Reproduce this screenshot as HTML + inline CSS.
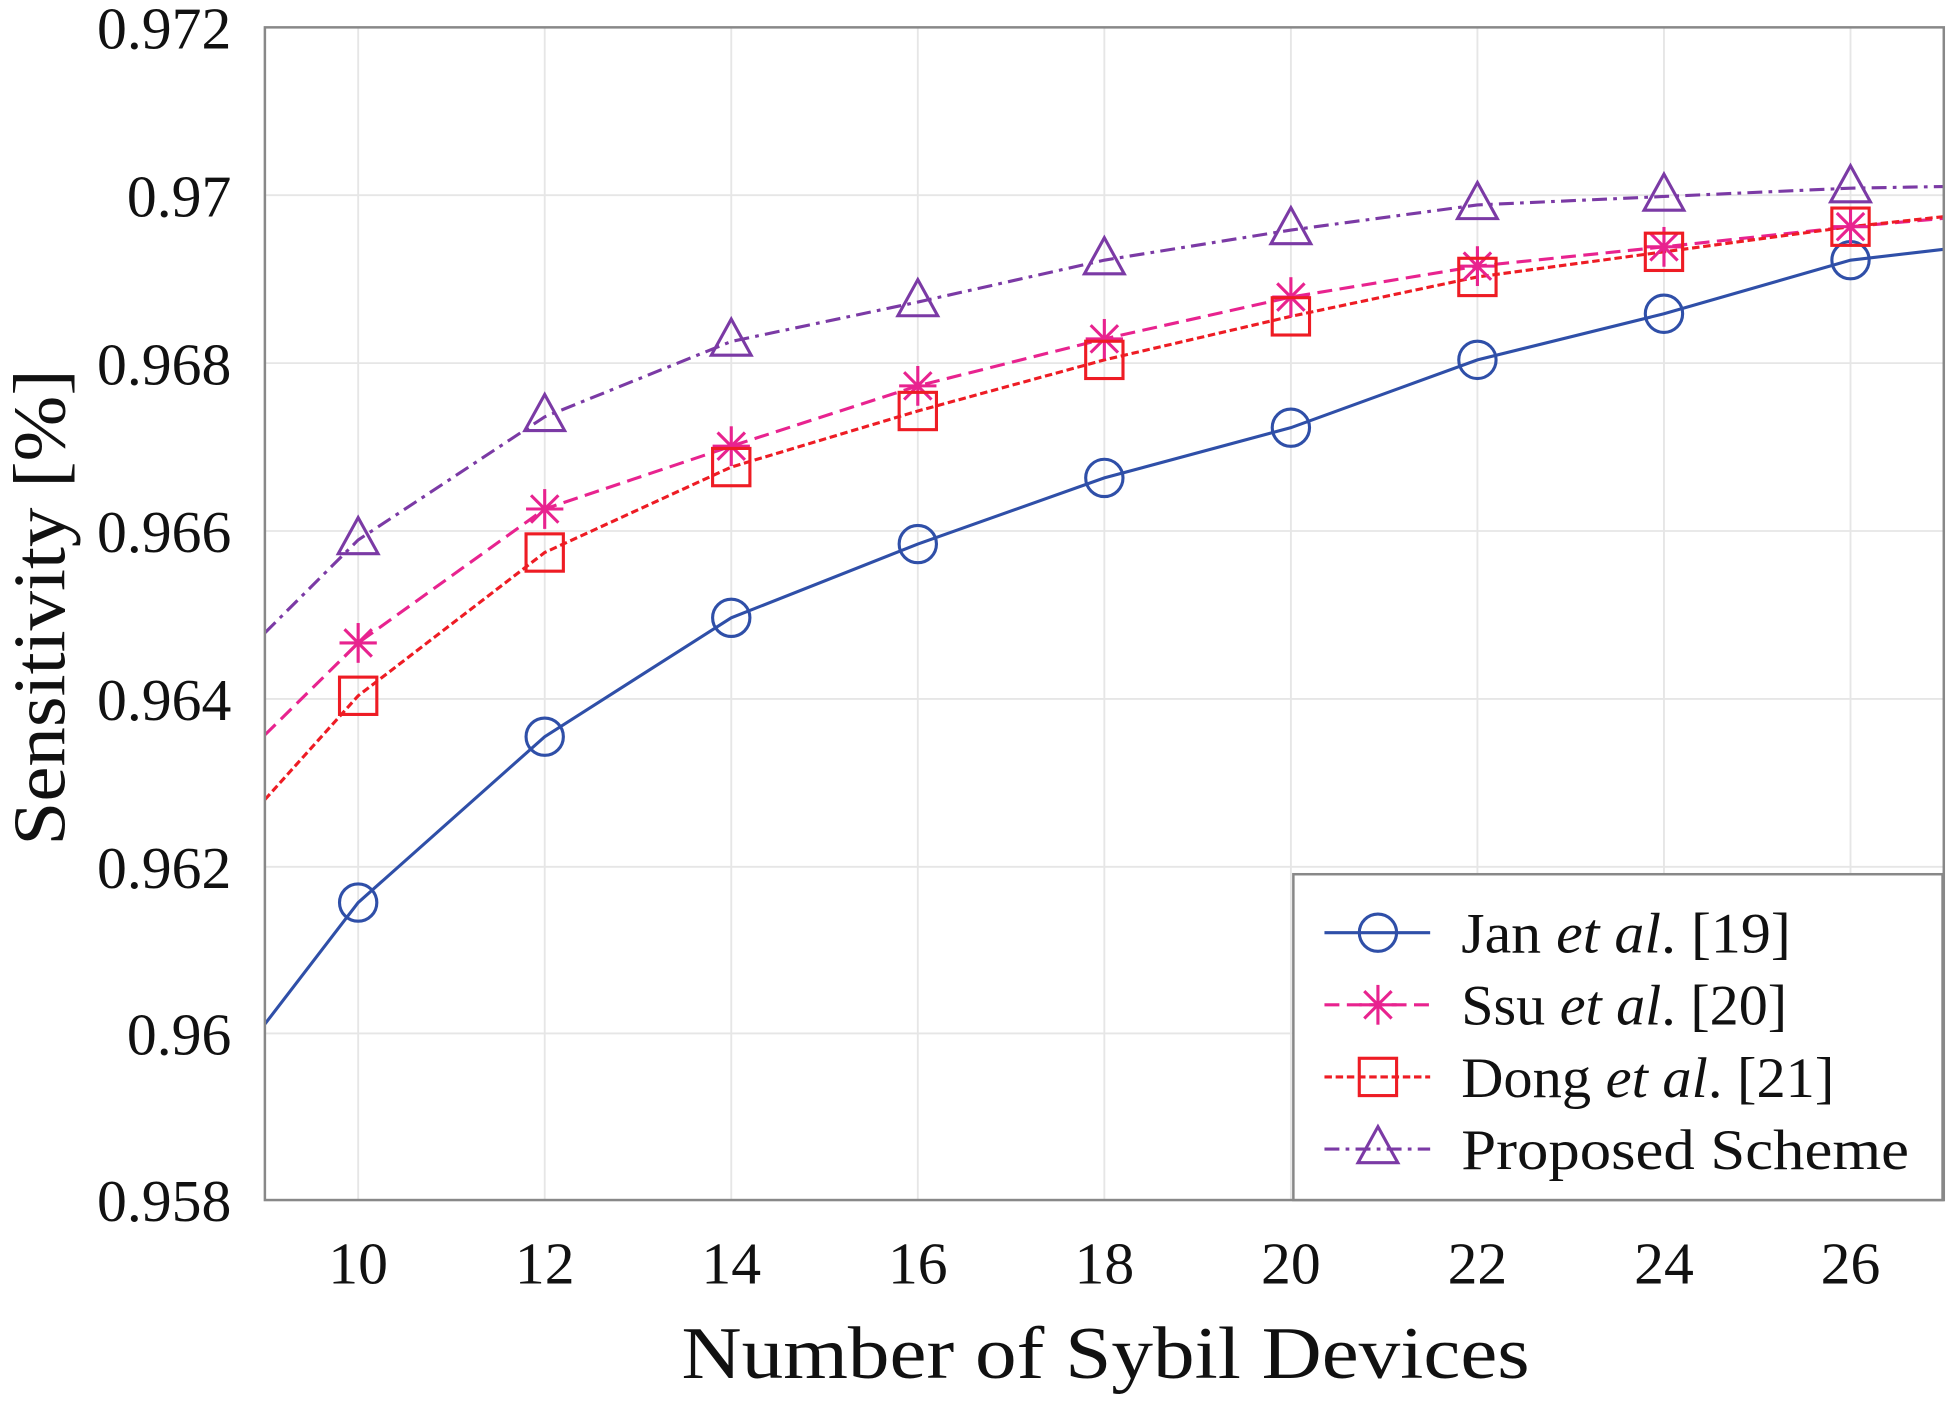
<!DOCTYPE html>
<html><head><meta charset="utf-8"><style>html,body{margin:0;padding:0;background:#fff}svg{display:block}</style></head>
<body>
<svg width="1950" height="1402" viewBox="0 0 1568 1127.4" preserveAspectRatio="none" xmlns="http://www.w3.org/2000/svg" font-family="'Liberation Serif', serif">
<defs>
<g id="ci"><circle r="15" fill="none" stroke="#2f4fa8" stroke-width="2.5"/></g>
<g id="st" stroke="#e8238f" stroke-width="2.5"><line x1="-15" y1="0" x2="15" y2="0"/><line x1="0" y1="-16" x2="0" y2="16"/><line x1="-11" y1="-11" x2="11" y2="11"/><line x1="-11" y1="11" x2="11" y2="-11"/></g>
<g id="sq"><rect x="-15" y="-15" width="30" height="30" fill="none" stroke="#ee1c24" stroke-width="2.5"/></g>
<g id="tr"><polygon points="0,-18 16,11 -16,11" fill="none" stroke="#7b3aa5" stroke-width="2.5"/></g>
<clipPath id="cp"><rect x="213" y="22" width="1350" height="943"/></clipPath>
</defs>
<g stroke="#e6e6e6" stroke-width="1.5">
<line x1="288" y1="22" x2="288" y2="965"/><line x1="438" y1="22" x2="438" y2="965"/><line x1="588" y1="22" x2="588" y2="965"/><line x1="738" y1="22" x2="738" y2="965"/><line x1="888" y1="22" x2="888" y2="965"/><line x1="1038" y1="22" x2="1038" y2="965"/><line x1="1188" y1="22" x2="1188" y2="965"/><line x1="1338" y1="22" x2="1338" y2="965"/><line x1="1488" y1="22" x2="1488" y2="965"/>
<line x1="213" y1="157" x2="1563" y2="157"/><line x1="213" y1="292" x2="1563" y2="292"/><line x1="213" y1="427" x2="1563" y2="427"/><line x1="213" y1="562" x2="1563" y2="562"/><line x1="213" y1="697" x2="1563" y2="697"/><line x1="213" y1="831" x2="1563" y2="831"/>
</g>
<g clip-path="url(#cp)" fill="none" stroke-width="2.5">
<polyline stroke="#2f4fa8" points="213,823.5 288,725.8 438,592.4 588,496.8 738,437.5 888,384.3 1038,343.9 1188,289.4 1338,252.3 1488,209.2 1563,200.5"/>
<polyline stroke="#e8238f" stroke-dasharray="12,6" points="213,591 288,517 438,409.3 588,358.8 738,310.3 888,272.5 1038,238.9 1188,214 1338,198.5 1488,182.3 1563,175.6"/>
<polyline stroke="#ee1c24" stroke-dasharray="6,3" points="213,643 288,559.5 438,444.3 588,375.6 738,330.5 888,289.4 1038,254.4 1188,222.7 1338,202.5 1488,182.3 1563,174.2"/>
<polyline stroke="#7b3aa5" stroke-dasharray="12,5,3,5" points="213,508.9 288,434.2 438,335.2 588,274.6 738,242.9 888,209.2 1038,185 1188,164.8 1338,158 1488,151.3 1563,150"/>
</g>
<g>
<use href="#ci" x="288" y="725.8"/><use href="#ci" x="438" y="592.4"/><use href="#ci" x="588" y="496.8"/><use href="#ci" x="738" y="437.5"/><use href="#ci" x="888" y="384.3"/><use href="#ci" x="1038" y="343.9"/><use href="#ci" x="1188" y="289.4"/><use href="#ci" x="1338" y="252.3"/><use href="#ci" x="1488" y="209.2"/>
<use href="#st" x="288" y="517"/><use href="#st" x="438" y="409.3"/><use href="#st" x="588" y="358.8"/><use href="#st" x="738" y="310.3"/><use href="#st" x="888" y="272.5"/><use href="#st" x="1038" y="238.9"/><use href="#st" x="1188" y="214"/><use href="#st" x="1338" y="198.5"/><use href="#st" x="1488" y="182.3"/>
<use href="#sq" x="288" y="559.5"/><use href="#sq" x="438" y="444.3"/><use href="#sq" x="588" y="375.6"/><use href="#sq" x="738" y="330.5"/><use href="#sq" x="888" y="289.4"/><use href="#sq" x="1038" y="254.4"/><use href="#sq" x="1188" y="222.7"/><use href="#sq" x="1338" y="202.5"/><use href="#sq" x="1488" y="182.3"/>
<use href="#tr" x="288" y="434.2"/><use href="#tr" x="438" y="335.2"/><use href="#tr" x="588" y="274.6"/><use href="#tr" x="738" y="242.9"/><use href="#tr" x="888" y="209.2"/><use href="#tr" x="1038" y="185"/><use href="#tr" x="1188" y="164.8"/><use href="#tr" x="1338" y="158"/><use href="#tr" x="1488" y="151.3"/>
</g>
<rect x="213" y="22" width="1350" height="943" fill="none" stroke="#888" stroke-width="2"/>
<g font-size="48" fill="#111" text-anchor="end">
<text x="186" y="39">0.972</text><text x="186" y="174">0.97</text><text x="186" y="309">0.968</text><text x="186" y="444">0.966</text><text x="186" y="579">0.964</text><text x="186" y="714">0.962</text><text x="186" y="848">0.96</text><text x="186" y="982">0.958</text>
</g>
<g font-size="48" fill="#111" text-anchor="middle">
<text x="288" y="1032">10</text><text x="438" y="1032">12</text><text x="588" y="1032">14</text><text x="738" y="1032">16</text><text x="888" y="1032">18</text><text x="1038" y="1032">20</text><text x="1188" y="1032">22</text><text x="1338" y="1032">24</text><text x="1488" y="1032">26</text>
</g>
<text x="548" y="1108" font-size="60" textLength="682" lengthAdjust="spacingAndGlyphs" fill="#111">Number of Sybil Devices</text>
<text transform="translate(52,680) rotate(-90)" font-size="60" textLength="383" lengthAdjust="spacingAndGlyphs" fill="#111">Sensitivity [%]</text>
<rect x="1040" y="703" width="522" height="262" fill="#fff" stroke="#888" stroke-width="2"/>
<g stroke-width="2.5">
<line x1="1065" y1="750" x2="1150" y2="750" stroke="#2f4fa8"/><use href="#ci" x="1108" y="750"/>
<line x1="1065" y1="808" x2="1150" y2="808" stroke="#e8238f" stroke-dasharray="12,6"/><use href="#st" x="1108" y="808"/>
<line x1="1065" y1="866" x2="1150" y2="866" stroke="#ee1c24" stroke-dasharray="6,3"/><use href="#sq" x="1108" y="866"/>
<line x1="1065" y1="924" x2="1150" y2="924" stroke="#7b3aa5" stroke-dasharray="12,5,3,5"/><use href="#tr" x="1108" y="924"/>
</g>
<g font-size="46" fill="#111">
<text x="1175" y="766" textLength="265" lengthAdjust="spacingAndGlyphs">Jan <tspan font-style="italic">et al</tspan>. [19]</text>
<text x="1175" y="824" textLength="262" lengthAdjust="spacingAndGlyphs">Ssu <tspan font-style="italic">et al</tspan>. [20]</text>
<text x="1175" y="882" textLength="300" lengthAdjust="spacingAndGlyphs">Dong <tspan font-style="italic">et al</tspan>. [21]</text>
<text x="1175" y="940" textLength="360" lengthAdjust="spacingAndGlyphs">Proposed Scheme</text>
</g>
</svg>
</body></html>
